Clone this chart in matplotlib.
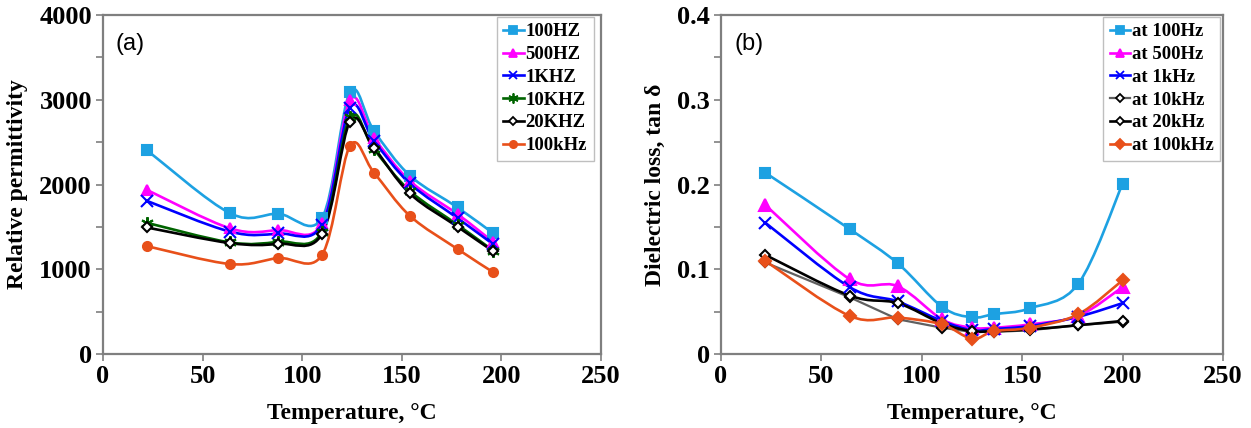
import matplotlib
matplotlib.use('Agg')
import matplotlib.pyplot as plt
import numpy as np
from matplotlib.path import Path
from matplotlib.patches import PathPatch
from matplotlib.lines import Line2D
from matplotlib.ticker import MultipleLocator, FuncFormatter

# (a) relative permittivity vs temperature
temp_a = [22, 64, 88, 110, 124, 136, 154, 178, 196]
perm_100hz = [2405, 1658, 1655, 1607, 3090, 2633, 2106, 1729, 1422]
perm_500hz = [1937, 1481, 1462, 1540, 2994, 2554, 2043, 1650, 1320]
perm_1khz = [1807, 1442, 1422, 1525, 2908, 2515, 2012, 1603, 1293]
perm_10khz = [1548, 1316, 1325, 1440, 2798, 2417, 1925, 1525, 1218]
perm_20khz = [1493, 1308, 1300, 1418, 2743, 2436, 1894, 1501, 1210]
perm_100khz = [1273, 1061, 1132, 1171, 2456, 2141, 1631, 1238, 963]
labels_a = ['100HZ', '500HZ', '1KHZ', '10KHZ', '20KHZ', '100kHz']

# (b) dielectric loss vs temperature
temp_b = [22, 64, 88, 110, 125, 136, 154, 178, 200]
loss_100hz = [0.214, 0.1475, 0.107, 0.0558, 0.0433, 0.047, 0.054, 0.083, 0.201]
loss_500hz = [0.176, 0.0885, 0.080, 0.041, 0.031, 0.031, 0.035, 0.045, 0.079]
loss_1khz = [0.155, 0.079, 0.062, 0.039, 0.028, 0.0295, 0.033, 0.044, 0.060]
loss_10khz = [0.108, 0.067, 0.041, 0.031, 0.026, 0.026, 0.028, 0.034, 0.038]
loss_20khz = [0.117, 0.069, 0.060, 0.036, 0.027, 0.027, 0.029, 0.034, 0.039]
loss_100khz = [0.110, 0.045, 0.043, 0.035, 0.018, 0.027, 0.031, 0.047, 0.087]
labels_b = ['at 100Hz', 'at 500Hz', 'at 1kHz', 'at 10kHz', 'at 20kHz', 'at 100kHz']

serif = ['Liberation Serif', 'DejaVu Serif']
sans = ['Liberation Sans', 'DejaVu Sans']
lw = 1.9


def smooth_path(x, y):
    # excel style smoothed line: bezier segments through the points
    x = np.asarray(x, float)
    y = np.asarray(y, float)
    pts = np.column_stack([x, y])
    n = len(pts)
    verts = [pts[0]]
    codes = [Path.MOVETO]
    for i in range(n - 1):
        p0 = pts[max(i - 1, 0)]
        p1 = pts[i]
        p2 = pts[i + 1]
        p3 = pts[min(i + 2, n - 1)]
        c1 = p1 + (p2 - p0) / 6.0
        c2 = p2 - (p3 - p1) / 6.0
        verts += [c1, c2, p2]
        codes += [Path.CURVE4] * 3
    return Path(verts, codes)


def draw_series(ax, x, y, color, marker, ms, mfc, mec, smooth=True, lwid=lw):
    if smooth:
        ax.add_patch(PathPatch(smooth_path(x, y), fill=False, edgecolor=color,
                               lw=lwid, zorder=2, capstyle='round', joinstyle='round'))
    else:
        ax.plot(x, y, color=color, lw=lwid, zorder=2)
    ax.plot(x, y, ls='none', marker=marker, ms=ms, mfc=mfc, mec=mec, mew=1.5, zorder=3)
    return Line2D([], [], color=color, lw=lwid, marker=marker, ms=ms * 0.8,
                  mfc=mfc, mec=mec, mew=1.3)


def style_axes(ax, ymax, ystep, fmt):
    ax.set_xlim(0, 250)
    ax.set_ylim(0, ymax)
    ax.xaxis.set_major_locator(MultipleLocator(50))
    ax.yaxis.set_major_locator(MultipleLocator(ystep))
    ax.yaxis.set_major_formatter(FuncFormatter(fmt))
    for s in ax.spines.values():
        s.set_color('#7f7f7f')
        s.set_linewidth(1.6)
    ax.tick_params(direction='out', length=5, width=1.2, color='#7f7f7f',
                   labelsize=19, pad=3)
    for t in ax.get_xticklabels() + ax.get_yticklabels():
        t.set_fontfamily(serif)
        t.set_fontweight('bold')
    ax.set_xlabel('Temperature, °C', family=serif, fontweight='bold', fontsize=17, labelpad=11)


def add_legend(ax, handles, labels, anchor):
    leg = ax.legend(handles, labels, loc='upper right', bbox_to_anchor=anchor,
                    borderaxespad=0, prop={'family': serif, 'weight': 'bold', 'size': 13.5},
                    handlelength=1.1, handletextpad=0.1, labelspacing=0.3, borderpad=0.35,
                    fancybox=False, framealpha=1)
    leg.get_frame().set_edgecolor('#bfbfbf')
    leg.get_frame().set_linewidth(1.0)


fig = plt.figure(figsize=(12.51, 4.28), dpi=100)
ax1 = fig.add_axes([103 / 1251, 74 / 428, 498 / 1251, 339 / 428])
ax2 = fig.add_axes([721 / 1251, 74 / 428, 502 / 1251, 339 / 428])

blue_l = '#1da1e2'
mag = '#ff00ff'
blue = '#0000ff'
green = '#006400'
orange = '#e8501a'

h = []
h.append(draw_series(ax1, temp_a, perm_100hz, blue_l, 's', 7, blue_l, blue_l))
h.append(draw_series(ax1, temp_a, perm_500hz, mag, '^', 7, mag, mag))
h.append(draw_series(ax1, temp_a, perm_1khz, blue, 'x', 8, blue, blue))
h.append(draw_series(ax1, temp_a, perm_10khz, green, (6, 2, 0), 9, green, green))
h.append(draw_series(ax1, temp_a, perm_20khz, 'black', 'D', 5.5, 'white', 'black'))
h.append(draw_series(ax1, temp_a, perm_100khz, orange, 'o', 6.5, orange, orange))

style_axes(ax1, 4000, 500, lambda v, p: '%d' % v if v % 1000 == 0 else '')
ax1.set_ylabel('Relative permittivity', family=serif, fontweight='bold', fontsize=17, labelpad=8)
ax1.text(0.026, 0.915, '(a)', transform=ax1.transAxes, family=sans, fontsize=17, va='center')
add_legend(ax1, h, labels_a, (0.985, 0.995))

gray = '#606060'
h2 = []
h2.append(draw_series(ax2, temp_b, loss_100hz, blue_l, 's', 7, blue_l, blue_l))
h2.append(draw_series(ax2, temp_b, loss_500hz, mag, '^', 8, mag, mag))
h2.append(draw_series(ax2, temp_b, loss_1khz, blue, 'x', 8, blue, blue))
h2.append(draw_series(ax2, temp_b, loss_10khz, gray, 'D', 5.5, 'white', 'black', smooth=False, lwid=1.6))
h2.append(draw_series(ax2, temp_b, loss_20khz, 'black', 'D', 5.5, 'white', 'black'))
h2.append(draw_series(ax2, temp_b, loss_100khz, orange, 'D', 6.5, orange, orange))

style_axes(ax2, 0.4, 0.05,
           lambda v, p: ('0' if abs(v) < 1e-9 else '%.1f' % v) if abs(v * 10 - round(v * 10)) < 1e-6 else '')
ax2.set_ylabel('Dielectric loss, tan δ', family=serif, fontweight='bold', fontsize=17, labelpad=8)
ax2.text(0.026, 0.915, '(b)', transform=ax2.transAxes, family=sans, fontsize=17, va='center')
add_legend(ax2, h2, labels_b, (0.995, 0.995))

fig.savefig('out.png', dpi=100)
